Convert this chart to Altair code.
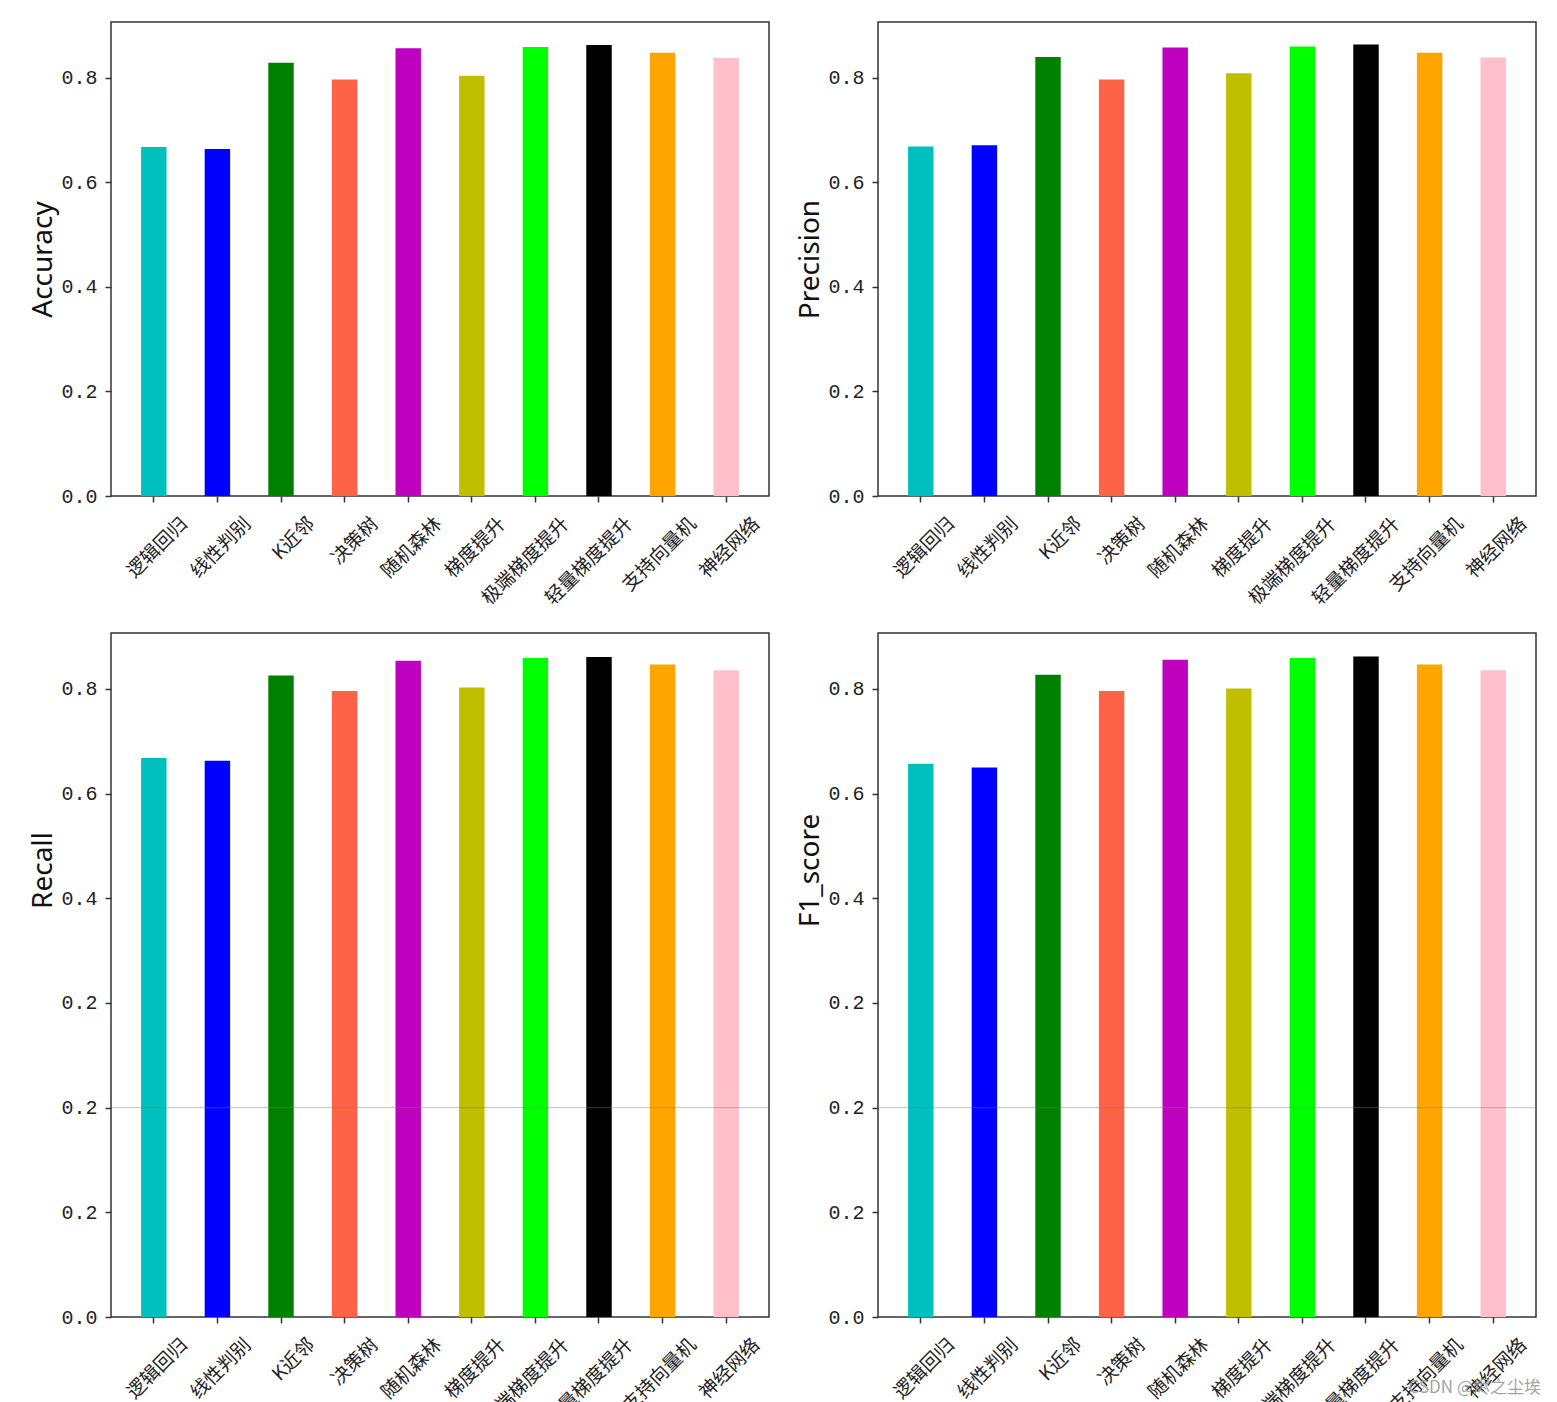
import altair as alt
import pandas as pd

models = ["逻辑回归", "线性判别", "K近邻", "决策树", "随机森林", "梯度提升",
          "极端梯度提升", "轻量梯度提升", "支持向量机", "神经网络"]
colors = ["#00BFBF", "#0000FF", "#008000", "#FF6347", "#BF00BF", "#BFBF00",
          "#00FF00", "#000000", "#FFA500", "#FFC0CB"]

accuracy = [0.668, 0.664, 0.829, 0.797, 0.857, 0.804, 0.859, 0.863, 0.848, 0.838]
precision = [0.669, 0.671, 0.840, 0.797, 0.858, 0.809, 0.860, 0.864, 0.848, 0.839]
recall = [0.668, 0.663, 0.826, 0.796, 0.854, 0.803, 0.859, 0.861, 0.847, 0.836]
f1_score = [0.657, 0.650, 0.827, 0.796, 0.856, 0.801, 0.859, 0.862, 0.847, 0.836]

top_ticks = [0.0, 0.2, 0.4, 0.6, 0.8]
bottom_ticks = [0.0, 0.2, 0.4, 0.6, 0.8, 1.0, 1.2]
# the lower panels in the picture repeat the "0.2" band (stitched screenshot)
bottom_labels = ["0.0", "0.2", "0.2", "0.2", "0.4", "0.6", "0.8"]
bottom_shift = 0.4
watermark = "CSDN @烬之尘埃"

AX = "#333333"
W = 658


def panel(values, title, bottom, mark=False):
    df = pd.DataFrame({"model": models, "value": values})
    if bottom:
        shift = bottom_shift
        dom = [0, 0.907 + bottom_shift]
        ticks = bottom_ticks
        expr = "[" + ",".join("'%s'" % s for s in bottom_labels) + "][round(datum.value*5)]"
        h = 684
        title_y = 237
    else:
        shift = 0.0
        dom = [0, 0.907]
        ticks = top_ticks
        expr = "format(datum.value, '.1f')"
        h = 474
        title_y = 237
    base = alt.Chart(df).transform_calculate(pos="datum.value + %f" % shift)
    yaxis = alt.Axis(values=ticks, labelExpr=expr, title=title, grid=False, domain=False,
                     tickSize=6, tickWidth=1.5, tickColor=AX,
                     labelFont="Liberation Mono", labelFontSize=20, labelColor="#222222",
                     labelPadding=8,
                     titleFont="Noto Sans", titleFontSize=28, titleFontWeight="normal",
                     titleColor="#111111", titleX=-60, titleY=title_y,
                     titleBaseline="alphabetic")
    xaxis = alt.Axis(title=None, labelAngle=-45, labelAlign="right", labelBaseline="top",
                     labelOffset=24, labelPadding=12, labelFont="Noto Sans CJK SC",
                     labelFontSize=19, labelColor="#222222", tickSize=6, tickWidth=1.5,
                     tickColor=AX, domain=False, grid=False)
    bars = base.mark_bar().encode(
        x=alt.X("model:N", sort=models,
                scale=alt.Scale(paddingInner=0.6, paddingOuter=0.473), axis=xaxis),
        y=alt.Y("pos:Q", scale=alt.Scale(domain=dom, nice=False, zero=True), axis=yaxis),
        color=alt.Color("model:N", scale=alt.Scale(domain=models, range=colors), legend=None),
    )
    layers = [bars]
    if bottom:
        seam = alt.Chart(pd.DataFrame({"s": [0]})).mark_rule(
            color="#777777", opacity=0.45, strokeWidth=1).encode(y=alt.datum(0.4))
        layers.append(seam)
    if mark:
        wm = alt.Chart(pd.DataFrame({"t": [watermark]})).mark_text(
            align="right", baseline="alphabetic", fontSize=17, font="Noto Sans CJK SC",
            color="#9a9a9a", opacity=0.9).encode(
            text="t:N", x=alt.value(W + 5), y=alt.value(h + 76))
        layers.append(wm)
    return alt.layer(*layers).properties(width=W, height=h)


chart = alt.concat(
    panel(accuracy, "Accuracy", False),
    panel(precision, "Precision", False),
    panel(recall, "Recall", True),
    panel(f1_score, "F1_score", True, mark=True),
    columns=2,
    spacing={"row": 137, "column": 109},
    bounds="flush",
).properties(
    padding={"left": 20, "top": 13, "right": 0, "bottom": 0},
    background="white",
).configure_view(
    stroke=AX, strokeWidth=1.5
)

chart.save("out.html", embed_options={"renderer": "svg", "actions": False})
